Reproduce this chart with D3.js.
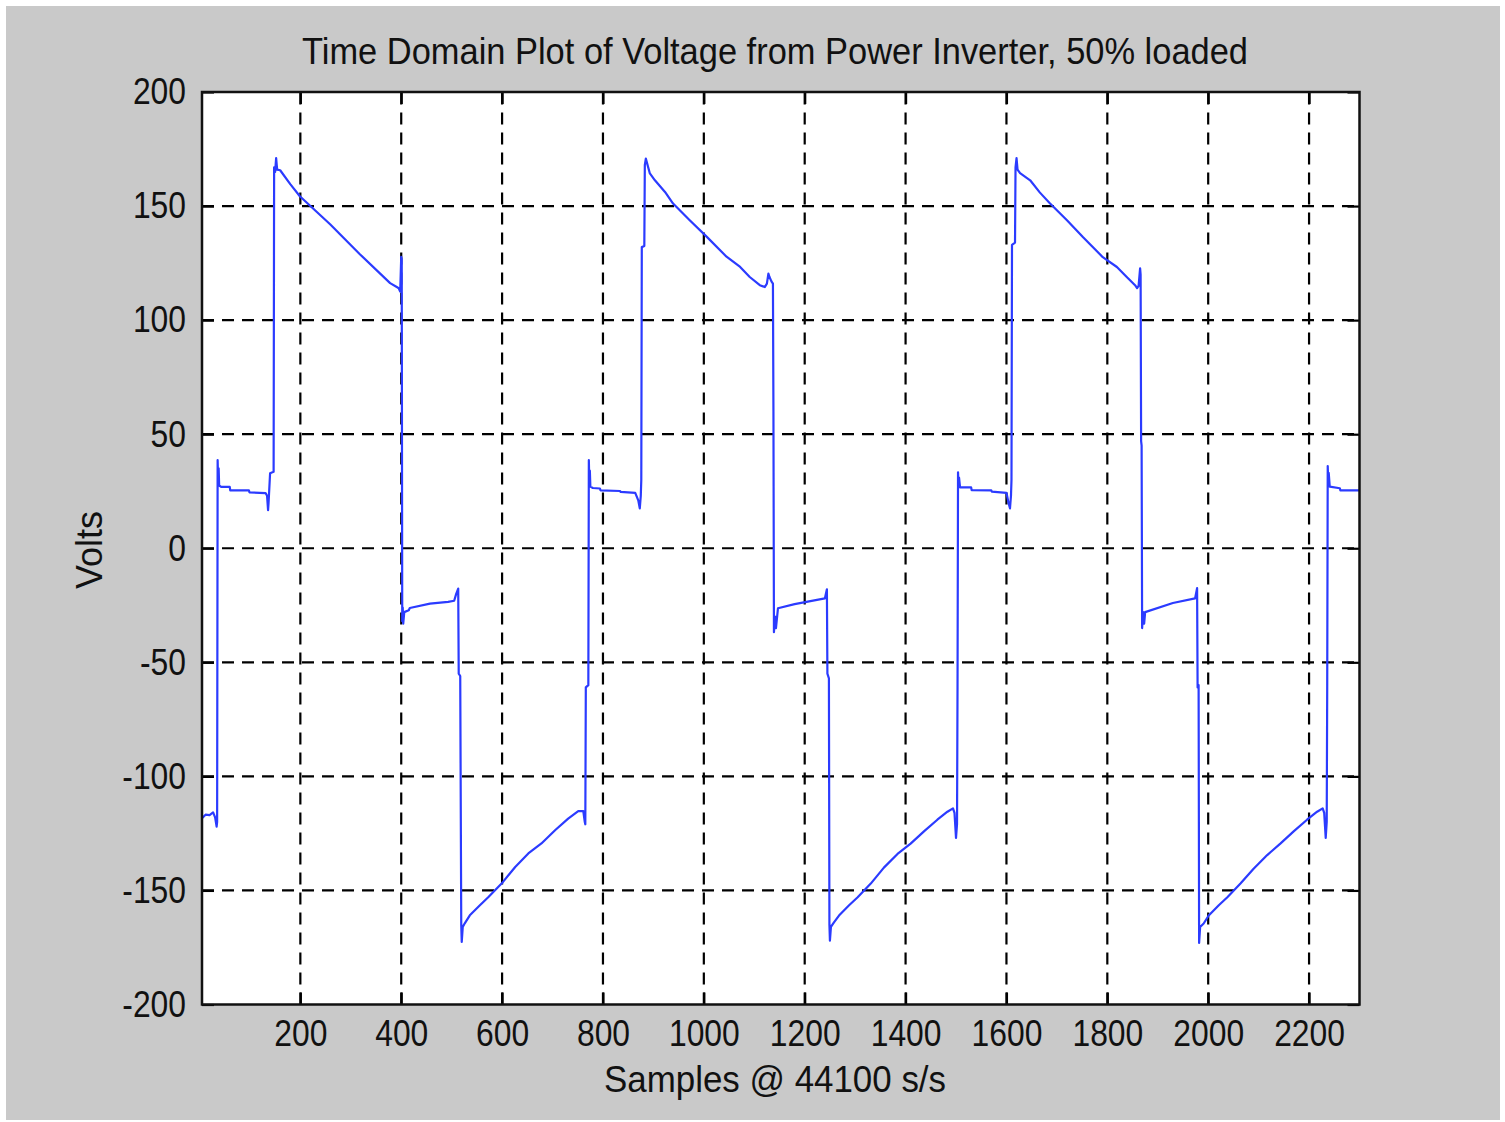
<!DOCTYPE html>
<html>
<head>
<meta charset="utf-8">
<script src="https://cdn.jsdelivr.net/npm/d3@7"></script>
<style>
  html, body { margin: 0; padding: 0; background: #fff; }
  text { font-family: "Liberation Sans", Arial, sans-serif; fill: #111; }
</style>
</head>
<body>
<div id="chart"></div>
<script>
// samples (x) and volts (y)
const sampleIdx = [
  5, 12, 20, 27, 31, 34, 35, 36, 37, 38, 39, 43, 60, 61, 98, 99, 131, 134, 136, 137, 140, 147,
  148, 150, 152, 154, 160, 180, 199, 259, 318, 378, 392, 395, 398,
  400, 401, 402, 403, 404, 406, 415, 417, 457, 493, 505, 509, 513, 514, 517, 519, 520, 522,
  526, 536, 556, 573, 599, 626, 652, 678, 705, 731, 751, 761, 764, 765, 766, 771,
  772, 773, 774, 775, 780, 794, 795, 834, 835, 864, 870, 873, 875, 876, 877, 882, 883, 885,
  893, 903, 923, 939, 972, 1006, 1045, 1072, 1091, 1111, 1121, 1125, 1128, 1130, 1134, 1137, 1138, 1139, 1141,
  1143, 1147, 1180, 1240, 1244, 1245, 1248, 1249, 1250, 1252, 1258, 1268, 1288, 1305, 1331, 1357, 1384,
  1410, 1437, 1463, 1483, 1494, 1497, 1500, 1502, 1503,
  1504, 1505, 1506, 1508, 1530, 1531, 1570, 1571, 1600, 1604, 1607, 1609, 1610, 1611, 1617,
  1618, 1620, 1622, 1627, 1647, 1666, 1686, 1720, 1752, 1791, 1819, 1839, 1855, 1859, 1862, 1865, 1866, 1867, 1868,
  1869, 1871, 1873, 1875, 1930, 1974, 1978, 1979, 1981, 1982, 1984, 1991, 2001, 2021, 2038, 2064, 2090,
  2117, 2143, 2170, 2196, 2216, 2227, 2230, 2233, 2235, 2236,
  2237, 2238, 2239, 2241, 2261, 2262, 2300
];
const volts = [
  -118.4, -116.8, -117, -115.8, -118, -122, -120, 38.6, 29, 35, 27.5, 26.9, 26.9, 25.4, 25.4, 24.5, 24.2, 23, 16.7, 20, 32.9, 33.5,
  167, 165, 171, 166, 165.7, 159.6, 154.3, 142, 128.9, 116.2, 114.4, 114, 112.5,
  127.7, 127, -32, -26, -33, -28, -27.2, -26.2, -24.3, -23.5, -23, -20, -17.7, -55, -56, -165, -172.6, -166,
  -164.4, -160.9, -156.5, -152.9, -147, -139.7, -133.8, -129.4, -123.6, -118.5, -115.2, -115.2, -120, -121, -61, -60,
  38.6, 28, 34, 27, 26.4, 26.2, 25.4, 25.1, 24.7, 24.3, 21, 17.5, 23, 30, 132, 132.5, 168, 170.8,
  164.3, 161.3, 156.2, 151.1, 143.8, 136.5, 127.8, 123.3, 118.9, 115.3, 114.5, 116, 120.4, 119, 117, 116, 60, -36.8, -30,
  -35, -26.3, -24.5, -22, -18, -55, -57, -165, -172, -166, -164, -161, -156.5, -153, -147, -140, -134,
  -129.5, -124, -119, -115.5, -114, -116, -127, -121, -61,
  33.3, 27, 31, 26.7, 26.7, 25.5, 25.4, 24.8, 24.3, 20, 17.5, 23, 30, 133, 134,
  167, 171, 166, 164.4, 161.3, 156, 151.2, 143.8, 136.3, 127.6, 123.3, 118.8, 115.3, 114, 115, 122.7, 120, 47, 45,
  -35, -28, -33, -28, -24, -22, -17.5, -61, -60, -173, -166, -164.5, -161, -156.5, -153, -147, -140.5,
  -134.5, -129.5, -124, -119, -115.5, -114, -116, -127, -120, -60,
  36, 29, 33, 27, 26.3, 25.4, 25.4
];
const xTicks = [200, 400, 600, 800, 1000, 1200, 1400, 1600, 1800, 2000, 2200];
const yTicks = [-200, -150, -100, -50, 0, 50, 100, 150, 200];
const titleText = "Time Domain Plot of Voltage from Power Inverter, 50% loaded";
const xLabel = "Samples @ 44100 s/s";
const yLabel = "Volts";

const width = 1505, height = 1122;
const margin = { top: 92, right: 145.5, bottom: 117.5, left: 202 };
const plotW = width - margin.left - margin.right;
const plotH = height - margin.top - margin.bottom;

const svg = d3.select("#chart").append("svg")
  .attr("width", width)
  .attr("height", height);

// grey figure background
svg.append("rect")
  .attr("x", 6).attr("y", 6)
  .attr("width", 1494).attr("height", 1114)
  .attr("fill", "#c9c9c9");

const x = d3.scaleLinear().domain([5, 2300]).range([margin.left, margin.left + plotW]);
const y = d3.scaleLinear().domain([-200, 200]).range([margin.top + plotH, margin.top]);

svg.append("rect")
  .attr("x", margin.left).attr("y", margin.top)
  .attr("width", plotW).attr("height", plotH)
  .attr("fill", "#fff");

// dashed grid
const grid = svg.append("g")
  .attr("stroke", "#000")
  .attr("stroke-width", 2.2)
  .attr("stroke-dasharray", "12,8");

grid.selectAll("line.gx")
  .data(xTicks)
  .join("line")
  .attr("class", "gx")
  .attr("x1", d => x(d)).attr("x2", d => x(d))
  .attr("y1", y(-200)).attr("y2", y(200));

grid.selectAll("line.gy")
  .data(yTicks.filter(d => d > -200 && d < 200))
  .join("line")
  .attr("class", "gy")
  .attr("x1", x(5)).attr("x2", x(2300))
  .attr("y1", d => y(d)).attr("y2", d => y(d));

svg.append("defs").append("clipPath").attr("id", "clip")
  .append("rect")
  .attr("x", margin.left).attr("y", margin.top)
  .attr("width", plotW).attr("height", plotH);

const points = sampleIdx.map((s, i) => [s, volts[i]]);

svg.append("path")
  .datum(points)
  .attr("clip-path", "url(#clip)")
  .attr("fill", "none")
  .attr("stroke", "#2b3bff")
  .attr("stroke-width", 2.2)
  .attr("stroke-linejoin", "round")
  .attr("d", d3.line().x(d => x(d[0])).y(d => y(d[1])));

// axes with inward ticks
const tickLen = 12;
const styleAxis = g => {
  g.select(".domain").remove();
  g.attr("font-family", null);
  g.selectAll(".tick line").attr("stroke", "#000").attr("stroke-width", 2.2);
  g.selectAll(".tick text")
    .attr("fill", "#111")
    .attr("font-size", "37px")
    .each(function () {
      // the original font is narrower than Liberation Sans
      const w = this.getComputedTextLength();
      if (w > 0) d3.select(this).attr("textLength", w * 0.86).attr("lengthAdjust", "spacingAndGlyphs");
    });
};

svg.append("g")
  .attr("transform", `translate(0,${y(-200)})`)
  .call(d3.axisBottom(x).tickValues(xTicks).tickSize(-tickLen).tickPadding(15).tickFormat(d => String(d)))
  .call(styleAxis);

svg.append("g")
  .attr("transform", `translate(0,${y(200)})`)
  .call(d3.axisTop(x).tickValues(xTicks).tickSize(-tickLen).tickFormat(""))
  .call(styleAxis);

svg.append("g")
  .attr("transform", `translate(${x(5)},0)`)
  .call(d3.axisLeft(y).tickValues(yTicks).tickSize(-tickLen).tickPadding(16).tickFormat(d => String(d)))
  .call(styleAxis);

svg.append("g")
  .attr("transform", `translate(${x(2300)},0)`)
  .call(d3.axisRight(y).tickValues(yTicks).tickSize(-tickLen).tickFormat(""))
  .call(styleAxis);

// plot box
svg.append("rect")
  .attr("x", margin.left).attr("y", margin.top)
  .attr("width", plotW).attr("height", plotH)
  .attr("fill", "none")
  .attr("stroke", "#111")
  .attr("stroke-width", 2.5);

// title and labels
svg.append("text")
  .attr("x", 775).attr("y", 64)
  .attr("text-anchor", "middle")
  .attr("font-size", "36px")
  .attr("textLength", 946)
  .attr("lengthAdjust", "spacingAndGlyphs")
  .text(titleText);

svg.append("text")
  .attr("x", 775).attr("y", 1092)
  .attr("text-anchor", "middle")
  .attr("font-size", "36px")
  .attr("textLength", 342)
  .attr("lengthAdjust", "spacingAndGlyphs")
  .text(xLabel);

svg.append("text")
  .attr("transform", "translate(102,550) rotate(-90)")
  .attr("text-anchor", "middle")
  .attr("font-size", "36px")
  .text(yLabel);
</script>
</body>
</html>
